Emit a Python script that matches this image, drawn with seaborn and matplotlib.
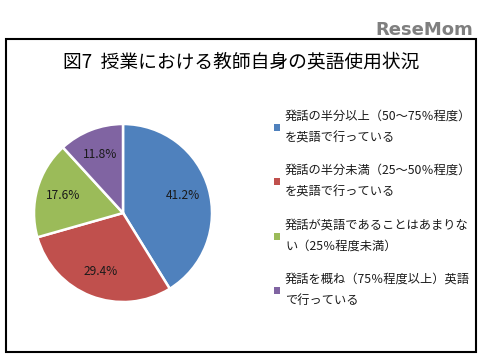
import matplotlib
matplotlib.use("Agg")
import matplotlib.pyplot as plt
import matplotlib.patches as mpatches
import seaborn as sns

sns.set_theme(style="white")
plt.rcParams['font.family'] = ['Noto Sans CJK JP', 'DejaVu Sans']

title = "図7  授業における教師自身の英語使用状況"
categories = [
    "発話の半分以上（50～75％程度）\nを英語で行っている",
    "発話の半分未満（25～50％程度）\nを英語で行っている",
    "発話が英語であることはあまりな\nい（25％程度未満）",
    "発話を概ね（75％程度以上）英語\nで行っている",
]
values = [41.2, 29.4, 17.6, 11.8]
colors = ["#4F81BD", "#C0504D", "#9BBB59", "#8064A2"]

W, H = 483, 357
fig = plt.figure(figsize=(W / 100, H / 100), dpi=100)
fig.patch.set_facecolor("white")

# outer frame
fig.add_artist(mpatches.Rectangle((6 / W, 5 / H), 470 / W, 313 / H,
                                  transform=fig.transFigure, fill=False,
                                  edgecolor="black", linewidth=1.5))

# logo
fig.text(473 / W, 1 - 35 / H, "ReseMom", ha="right", va="baseline",
         fontsize=13, fontweight="bold", color="#7f7f7f", family="DejaVu Sans")

# title
fig.text(241 / W, 1 - 62 / H, title, ha="center", va="center",
         fontsize=13.5, color="black")

cx, cy, r = 123, 213, 89
ax = fig.add_axes([(cx - r) / W, (H - cy - r) / H, 2 * r / W, 2 * r / H])
wedges, texts, autotexts = ax.pie(
    values, colors=colors, startangle=90, counterclock=False,
    autopct="%.1f%%", pctdistance=0.7,
    wedgeprops=dict(edgecolor="white", linewidth=1.8),
    textprops=dict(fontsize=8.6, color="#1a1a1a"))
ax.set_xlim(-1, 1)
ax.set_ylim(-1, 1)
ax.set_aspect("equal")
ax.axis("off")

handles = [mpatches.Patch(facecolor=c, edgecolor="none") for c in colors]
leg = fig.legend(handles, categories, loc="upper left",
                 bbox_to_anchor=(274 / W, 1 - 110 / H),
                 frameon=False, fontsize=8.8, handlelength=0.5,
                 handleheight=0.5, handletextpad=0.4, labelspacing=1.6,
                 borderaxespad=0, borderpad=0)
for t in leg.get_texts():
    t.set_linespacing(1.85)
    t.set_color("#1a1a1a")

fig.savefig("out.png", dpi=100, facecolor="white")
